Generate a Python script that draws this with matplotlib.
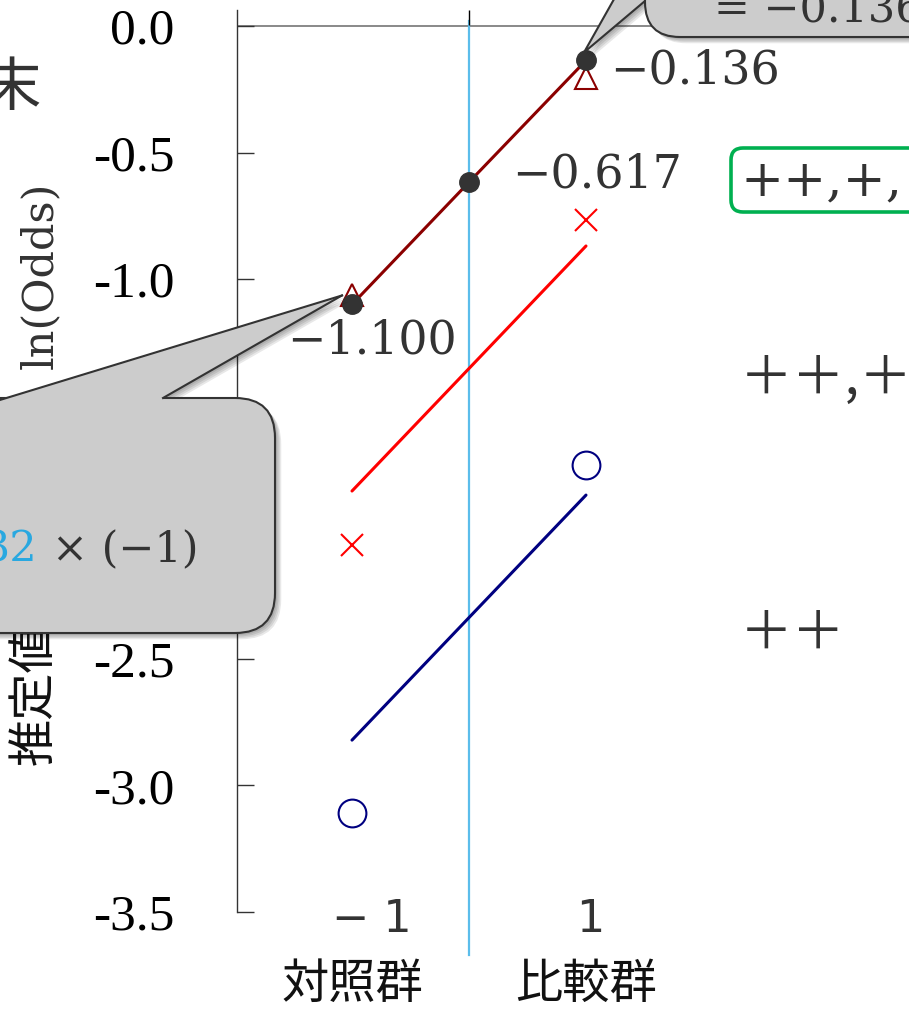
import matplotlib
matplotlib.use("Agg")
import matplotlib.pyplot as plt
import matplotlib.patheffects as pe
from matplotlib.patches import FancyBboxPatch, Polygon
from matplotlib.lines import Line2D
from matplotlib.transforms import Affine2D

# ---- data ----
group_names = ["対照群", "比較群"]
group_codes = [-1, 1]
group_tick_labels = ["− 1", "1"]

fit_x = [-1, 0, 1]
fit_logodds = [-1.100, -0.617, -0.136]
obs_logodds = [-1.063, -0.205]

mid_line = [-1.837, -0.869]
mid_obs = [-2.051, -0.767]
low_line = [-2.821, -1.853]
low_obs = [-3.109, -1.735]

y_ticks = [0.0, -0.5, -1.0, -1.5, -2.0, -2.5, -3.0, -3.5]
y_tick_labels = ["0.0", "-0.5", "-1.0", "-1.5", "-2.0", "-2.5", "-3.0", "-3.5"]

pattern_labels = ["++,+,", "＋＋,＋", "＋＋"]

# ---- figure ----
W, H = 909, 1010
fig = plt.figure(figsize=(W / 100, H / 100), dpi=100)
fig.patch.set_facecolor("white")
px = Affine2D().scale(1, -1).translate(0, H)   # pixel coords, origin top-left

DARK = "#333333"
SERIF = ["DejaVu Serif"]
CJK = ["Noto Sans CJK JP", "DejaVu Sans"]

ax = fig.add_axes([237 / W, 1 - 912 / H, (909 - 237) / W, (912 - 10) / H])
ax.set_xlim((237 - 469) / 117, (909 - 469) / 117)
ax.set_ylim(-3.5, 16 / 253.14)
for s in ("top", "right", "bottom"):
    ax.spines[s].set_visible(False)
ax.spines["left"].set_color(DARK)
ax.spines["left"].set_linewidth(1.0)
ax.patch.set_alpha(0)

ax.set_yticks(y_ticks)
ax.set_yticklabels(y_tick_labels, fontsize=37, family="Liberation Serif", color="black")
ax.tick_params(axis="y", direction="in", length=12, width=1, color=DARK, pad=45)
ax.xaxis.set_ticks_position("top")
ax.set_xticks([0])
ax.set_xticklabels([""])
ax.tick_params(axis="x", direction="in", length=11, width=1, color="black")

# reference lines
ax.axhline(0, color="#808080", lw=1.3, zorder=1)
ax.axvline(0, ymin=0.988, ymax=-0.048, color="#5BBDEB", lw=1.6, clip_on=False, zorder=1)

# fitted lines and observed points
ax.plot(group_codes, low_line, color="#000080", lw=2.2, solid_capstyle="round", zorder=3)
ax.plot(group_codes, low_obs, "o", mfc="none", mec="#000080", mew=1.5, ms=20, zorder=4)
ax.plot(group_codes, mid_line, color="red", lw=2.2, solid_capstyle="round", zorder=3)
ax.plot(group_codes, mid_obs, "x", color="red", mew=1.5, ms=16, zorder=4)
ax.plot(fit_x, fit_logodds, color="#8B0000", lw=2.2, zorder=3)
ax.plot(group_codes, obs_logodds, "^", mfc="none", mec="#8B0000", mew=1.5, ms=16, zorder=4)
ax.plot(fit_x, fit_logodds, "o", color=DARK, ms=14, zorder=5)

# value labels next to fitted points
label_offsets = [(-65, -36), (43, 7), (24, -10)]
for xv, yv, (dx, dy) in zip(fit_x, fit_logodds, label_offsets):
    ax.annotate(f"−{abs(yv):.3f}", xy=(xv, yv), xytext=(dx, dy),
                textcoords="offset pixels", ha="left", va="center",
                fontsize=33, family=SERIF, color=DARK, zorder=6)

# group tick labels and names
tick_dx = [20, 4]
for xv, tl, name, dx in zip(group_codes, group_tick_labels, group_names, tick_dx):
    ax.annotate(tl, xy=(xv, 0), xycoords=("data", "figure pixels"),
                xytext=(dx, 90), textcoords="offset pixels",
                ha="center", va="center", fontsize=32,
                family=["DejaVu Sans"], color=DARK, annotation_clip=False)
    ax.annotate(name, xy=(xv, 25), xycoords=("data", "figure pixels"),
                ha="center", va="center", fontsize=34, family=CJK,
                color="#111111", annotation_clip=False)


def to_px(x, y):
    dx, dy = ax.transData.transform((x, y))
    return dx, H - dy


shadow = [pe.SimplePatchShadow(offset=(o, -o), shadow_rgbFace="black", alpha=0.09)
          for o in (1.5, 2.5, 3.5, 4.5)] + [pe.Normal()]
BOX_FC = "#CCCCCC"

# axis-side labels
fig.text(40, 275, "ln(Odds)", transform=px, rotation=90, ha="center", va="center",
         fontsize=31, family=SERIF, color=DARK, zorder=1)
fig.text(34, 765, "推定値", transform=px, rotation=90, ha="center", va="bottom",
         fontsize=34, family=CJK, color="#111111", zorder=1)
fig.text(12, 88, "末", transform=px, ha="center", va="center",
         fontsize=42, family=CJK, color=DARK, zorder=1)

# callout at the control group
tx, ty = to_px(fit_x[0], fit_logodds[0])
tip = (tx - 10, ty - 9)
wedge_shadow = Polygon([tip, (163, 398), (-5, 401.5)], closed=True, transform=px,
                       fc=BOX_FC, ec="none", zorder=4)
wedge_shadow.set_path_effects(shadow)
fig.add_artist(wedge_shadow)
box1 = FancyBboxPatch((-100, 398), 375, 235, boxstyle="round,pad=0,rounding_size=40",
                      transform=px, fc=BOX_FC, ec=DARK, lw=1.5, zorder=5)
box1.set_path_effects(shadow)
fig.add_artist(box1)
fig.add_artist(Polygon([tip, (163, 398), (163, 401), (-5, 401)], closed=True,
                       transform=px, fc=BOX_FC, ec="none", zorder=6))
for end in [(163, 398), (-5, 401.5)]:
    fig.add_artist(Line2D([tip[0], end[0]], [tip[1], end[1]], transform=px,
                          color=DARK, lw=1.5, zorder=7))
fig.text(38, 550, "32", transform=px, ha="right", va="center",
         fontsize=31, family=SERIF, color="#29A8E0", zorder=8)
fig.text(52, 550, "× (−1)", transform=px, ha="left", va="center",
         fontsize=31, family=SERIF, color=DARK, zorder=8)

# callout at the comparison group
tx, ty = to_px(fit_x[-1], fit_logodds[-1])
tip2 = (tx - 2, ty - 8)
wedge2 = Polygon([tip2, (622, -15), (658, -10)], closed=True, transform=px,
                 fc=BOX_FC, ec=DARK, lw=1.5, zorder=4)
wedge2.set_path_effects(shadow)
fig.add_artist(wedge2)
box2 = FancyBboxPatch((645, -100), 400, 137, boxstyle="round,pad=0,rounding_size=35",
                      transform=px, fc=BOX_FC, ec=DARK, lw=1.5, zorder=5)
box2.set_path_effects(shadow)
fig.add_artist(box2)
fig.text(714, 10, "= −0.136", transform=px, ha="left", va="center",
         fontsize=31, family=SERIF, color=DARK, zorder=8)

# sign patterns on the right
gbox = FancyBboxPatch((731, 148), 300, 64, boxstyle="round,pad=0,rounding_size=12",
                      transform=px, fc="white", ec="#00B050", lw=2.6, zorder=5)
fig.add_artist(gbox)
fig.text(740, 182, pattern_labels[0], transform=px, ha="left", va="center",
         fontsize=37, family=SERIF, color=DARK, zorder=6)
fig.text(740, 378, pattern_labels[1], transform=px, ha="left", va="center",
         fontsize=38, family=CJK, color=DARK, zorder=6)
fig.text(740, 633, pattern_labels[2], transform=px, ha="left", va="center",
         fontsize=38, family=CJK, color=DARK, zorder=6)

fig.savefig("out.png", dpi=100)
